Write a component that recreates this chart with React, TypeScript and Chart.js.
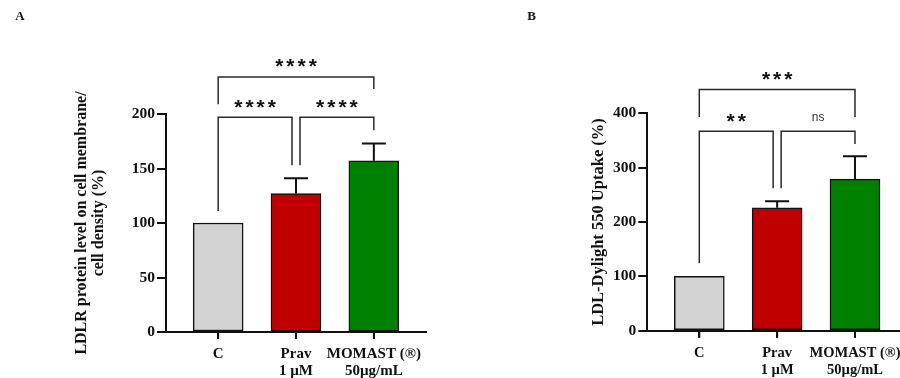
import React, { useEffect, useRef } from 'react';
import { Chart, registerables } from 'chart.js';

Chart.register(...registerables);

// ---------- data ----------
const categoryLabels: string[][] = [['C'], ['Prav', '1 µM'], ['MOMAST (®)', '50µg/mL']];
const barColors = ['#d3d3d3', '#c00000', '#008000'];

const panelAValues = [100, 127, 157];
const panelAErrors = [0, 14, 16];
const panelATicks = [0, 50, 100, 150, 200];
const panelATitle = ['LDLR protein level on cell membrane/', 'cell density (%)'];
const panelABrackets = [
  { from: 0, to: 2, y: 234, yLeft: 209, yRight: 223, label: '****' },
  { from: 0, to: 1, y: 197, yLeft: 111, yRight: 153, label: '****' },
  { from: 1, to: 2, y: 197, yLeft: 153, yRight: 185, label: '****' },
];

const panelBValues = [100, 226, 279];
const panelBErrors = [0, 12, 42];
const panelBTicks = [0, 100, 200, 300, 400];
const panelBTitle = 'LDL-Dylight 550 Uptake (%)';
const panelBBrackets = [
  { from: 0, to: 2, y: 444, yLeft: 393, yRight: 393, label: '***' },
  { from: 0, to: 1, y: 367, yLeft: 124, yRight: 262, label: '**' },
  { from: 1, to: 2, y: 367, yLeft: 262, yRight: 343.5, label: 'ns' },
];

// ---------- styles ----------
const SERIF = "'Liberation Serif', 'Times New Roman', serif";
const SANS = "'Liberation Sans', Arial, sans-serif";
const INK = '#111111';

type Bracket = { from: number; to: number; y: number; yLeft: number; yRight: number; label: string };

type PanelSpec = {
  values: number[];
  errors: number[];
  ticks: number[];
  title: string | string[];
  titleSize: number;
  titleLine: number;
  titlePad: number;
  xFontSize: number;
  brackets: Bracket[];
  letter: string;
  letterX: number;
  canvasWidth: number;
  yWidth: number;
  padRight: number;
  padTop: number;
  xHeight: number;
  xMin: number;
  xMax: number;
};

function overlayPlugin(spec: PanelSpec) {
  return {
    id: 'overlay',
    afterDraw(chart: any) {
      const { ctx } = chart;
      const xs = chart.scales.x;
      const ys = chart.scales.y;
      ctx.save();
      // category tick marks below the x axis
      ctx.strokeStyle = INK;
      ctx.lineWidth = 2;
      categoryLabels.forEach((_, i) => {
        const px = xs.getPixelForValue(i);
        ctx.beginPath();
        ctx.moveTo(px, xs.top);
        ctx.lineTo(px, xs.top + 7);
        ctx.stroke();
      });
      // error bars (upper whiskers)
      spec.values.forEach((v, i) => {
        const e = spec.errors[i];
        if (!e) return;
        const cx = xs.getPixelForValue(i);
        const top = ys.getPixelForValue(v);
        const cap = ys.getPixelForValue(v + e);
        ctx.beginPath();
        ctx.moveTo(cx, top);
        ctx.lineTo(cx, cap);
        ctx.moveTo(cx - 12, cap);
        ctx.lineTo(cx + 12, cap);
        ctx.stroke();
      });
      // significance brackets
      spec.brackets.forEach((b) => {
        const gap = 4;
        const x1 = xs.getPixelForValue(b.from) + (b.from === 1 ? gap : 0);
        const x2 = xs.getPixelForValue(b.to) - (b.to === 1 ? gap : 0);
        const yb = ys.getPixelForValue(b.y);
        ctx.strokeStyle = '#2a2a2a';
        ctx.lineWidth = 1.5;
        ctx.beginPath();
        ctx.moveTo(x1, ys.getPixelForValue(b.yLeft));
        ctx.lineTo(x1, yb);
        ctx.lineTo(x2, yb);
        ctx.lineTo(x2, ys.getPixelForValue(b.yRight));
        ctx.stroke();
        const mx = (x1 + x2) / 2;
        const cy = yb - 13.5;
        ctx.textAlign = 'center';
        if (b.label === 'ns') {
          ctx.font = `12px ${SANS}`;
          ctx.fillStyle = '#333333';
          ctx.textBaseline = 'middle';
          (ctx as any).letterSpacing = '0px';
          ctx.fillText(b.label, mx, cy);
        } else {
          ctx.font = `bold 21px ${SANS}`;
          ctx.fillStyle = INK;
          ctx.textBaseline = 'alphabetic';
          (ctx as any).letterSpacing = '3px';
          const m = ctx.measureText(b.label);
          const off = (m.actualBoundingBoxAscent - m.actualBoundingBoxDescent) / 2;
          ctx.fillText(b.label, mx + 1.5, cy + off);
          (ctx as any).letterSpacing = '0px';
        }
      });
      // panel letter
      ctx.font = `bold 13px ${SERIF}`;
      ctx.fillStyle = INK;
      ctx.textAlign = 'center';
      ctx.textBaseline = 'middle';
      ctx.fillText(spec.letter, spec.letterX, 17);
      ctx.restore();
    },
  };
}

function Panel({ spec, left }: { spec: PanelSpec; left: number }) {
  const ref = useRef<HTMLCanvasElement | null>(null);
  useEffect(() => {
    if (!ref.current) return;
    const chart = new Chart(ref.current, {
      type: 'bar',
      data: {
        datasets: [
          {
            data: spec.values.map((v, i) => ({ x: i, y: v })),
            backgroundColor: barColors,
            borderColor: INK,
            borderWidth: 1.5,
            borderSkipped: false,
            barThickness: 50,
          } as any,
        ],
      },
      options: {
        animation: false,
        responsive: false,
        devicePixelRatio: 1,
        layout: { padding: { left: 0, right: spec.padRight, top: spec.padTop, bottom: 0 } },
        plugins: { legend: { display: false }, tooltip: { enabled: false } },
        scales: {
          x: {
            type: 'linear',
            offset: false,
            min: spec.xMin,
            max: spec.xMax,
            afterBuildTicks: (s: any) => {
              s.ticks = categoryLabels.map((_, i) => ({ value: i }));
            },
            afterFit: (s: any) => {
              s.height = spec.xHeight;
            },
            ticks: {
              callback: (v: any) => categoryLabels[Math.round(Number(v))],
              font: { family: SERIF, size: spec.xFontSize, weight: 'bold', lineHeight: 17 / spec.xFontSize },
              color: INK,
              padding: 7,
              maxRotation: 0,
              autoSkip: false,
            },
            grid: { offset: false, drawOnChartArea: false, drawTicks: true, tickLength: 7, color: INK, lineWidth: 2 },
            border: { display: true, color: INK, width: 2 },
          },
          y: {
            type: 'linear',
            min: spec.ticks[0],
            max: spec.ticks[spec.ticks.length - 1],
            afterBuildTicks: (s: any) => {
              s.ticks = spec.ticks.map((v) => ({ value: v }));
            },
            afterFit: (s: any) => {
              s.width = spec.yWidth;
            },
            ticks: {
              font: { family: SERIF, size: 15.5, weight: 'bold' },
              color: INK,
              padding: 2,
            },
            grid: { drawOnChartArea: false, drawTicks: true, tickLength: 9, color: INK, lineWidth: 2 },
            border: { display: true, color: INK, width: 2 },
            title: {
              display: true,
              text: spec.title,
              color: INK,
              font: { family: SERIF, size: spec.titleSize, weight: 'bold', lineHeight: spec.titleLine / spec.titleSize },
              padding: { top: spec.titlePad, bottom: 0 },
            },
          },
        },
      } as any,
      plugins: [overlayPlugin(spec)],
    });
    return () => chart.destroy();
  }, [spec]);
  return (
    <canvas
      ref={ref}
      width={spec.canvasWidth}
      height={378}
      style={{ position: 'absolute', left, top: 0, width: spec.canvasWidth, height: 378, display: 'block' }}
    />
  );
}

const panelA: PanelSpec = {
  values: panelAValues,
  errors: panelAErrors,
  ticks: panelATicks,
  title: panelATitle,
  titleSize: 16,
  titleLine: 17,
  titlePad: 73.5,
  xFontSize: 15,
  brackets: panelABrackets,
  letter: 'A',
  letterX: 20,
  canvasWidth: 450,
  yWidth: 166,
  padRight: 24,
  padTop: 114,
  xHeight: 46,
  xMin: -0.67,
  xMax: 2.67,
};

const panelB: PanelSpec = {
  values: panelBValues,
  errors: panelBErrors,
  ticks: panelBTicks,
  title: panelBTitle,
  titleSize: 16.5,
  titleLine: 18,
  titlePad: 139.3,
  xFontSize: 14.5,
  brackets: panelBBrackets,
  letter: 'B',
  letterX: 81.7,
  canvasWidth: 470,
  yWidth: 197.3,
  padRight: 12,
  padTop: 113.3,
  xHeight: 47.3,
  xMin: -0.668,
  xMax: 2.681,
};

export default function App() {
  return (
    <div
      style={{
        position: 'fixed',
        left: 0,
        top: 0,
        width: 900,
        height: 378,
        overflow: 'hidden',
        background: '#ffffff',
      }}
    >
      <Panel spec={panelA} left={0} />
      <Panel spec={panelB} left={450} />
    </div>
  );
}
